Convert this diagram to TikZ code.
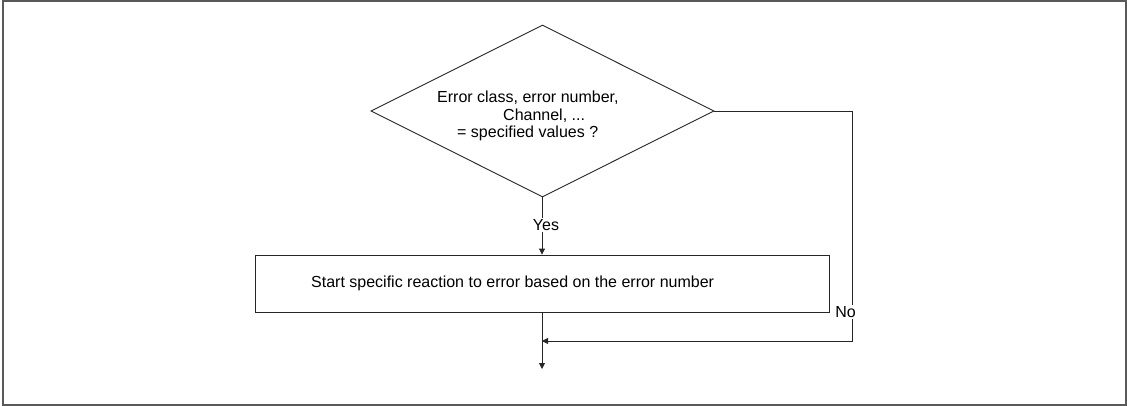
\documentclass[tikz,border=0pt]{standalone}
\usepackage{fontspec}
\setmainfont{Liberation Sans}
\usetikzlibrary{shapes.geometric,arrows.meta}
\begin{document}
\begin{tikzpicture}[x=1pt,y=-1pt,
  line/.style={draw=black!85, line width=0.9pt},
  arr/.style={line, -{Triangle[length=6pt,width=6pt]}},
  txt/.style={inner sep=0pt, font=\fontsize{16}{19}\selectfont},
  lbl/.style={inner sep=1pt, fill=white, font=\fontsize{16}{19}\selectfont}]
\useasboundingbox (0,0) rectangle (1127,406);
\draw[draw=black!65, line width=1.5pt] (3,1) rectangle (1126,405);
% decision
\node[diamond, line, minimum width=343pt, minimum height=172pt, inner sep=0pt] (dec) at (542.5,111) {};
\node[txt, anchor=west] (t1) at (437,98) {Error class, error number,};
\node[txt, anchor=west] (t2) at (503,116) {Channel, ...};
\node[txt, anchor=west] (t3) at (457,133) {= specified values ?};
% action box
\node[line, minimum width=574pt, minimum height=57pt, inner sep=0pt] (act) at (542,283.5) {};
\node[txt, anchor=west] (at) at (311,283) {Start specific reaction to error based on the error number};
% labels
\node[lbl] (yes) at (546,225) {Yes};
\node[lbl] (no) at (845.5,312) {No};
\coordinate (rt) at (852.5,111);
\coordinate (rb) at (852.5,341);
\coordinate (mj) at (542,341);
\coordinate (end) at (542,369);
% connectors
\draw[line] (dec.south) -- (yes.north -| dec.south);
\draw[arr] (yes.south -| act.north) -- (act.north);
\draw[line] (dec.east) -- (rt) -- (no.north -| rt);
\draw[arr] (no.south -| rt) -- (rb) -- (mj);
\draw[arr] (act.south) -- (end);
\end{tikzpicture}
\end{document}
